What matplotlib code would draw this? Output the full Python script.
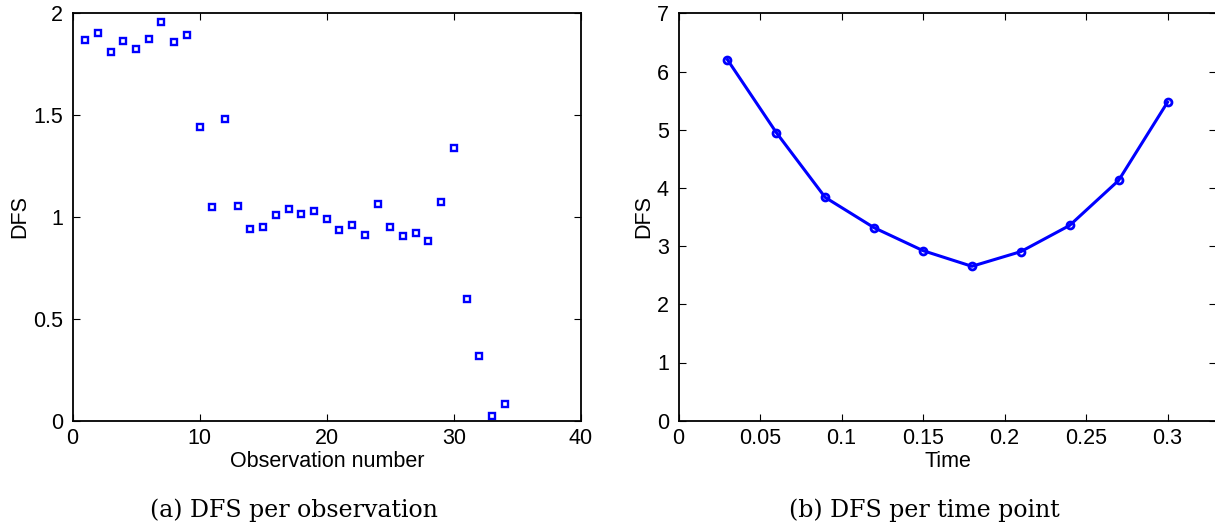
import matplotlib
matplotlib.use("Agg")
import matplotlib.pyplot as plt
import numpy as np

# ---- data ----
obs_number = list(range(1, 35))
dfs_obs = [1.869, 1.902, 1.811, 1.866, 1.826, 1.872, 1.956, 1.859, 1.892, 1.441,
           1.051, 1.479, 1.052, 0.941, 0.952, 1.008, 1.038, 1.016, 1.028, 0.992,
           0.938, 0.959, 0.913, 1.064, 0.949, 0.907, 0.920, 0.880, 1.075, 1.339,
           0.595, 0.320, 0.023, 0.083]

time_points = [0.03, 0.06, 0.09, 0.12, 0.15, 0.18, 0.21, 0.24, 0.27, 0.30]
dfs_time = [6.204, 4.951, 3.837, 3.316, 2.922, 2.653, 2.905, 3.356, 4.128, 5.472]

left_xticks = [0, 10, 20, 30, 40]
left_yticks = [0, 0.5, 1, 1.5, 2]
left_yticklabels = ["0", "0.5", "1", "1.5", "2"]
right_xticks = [0, 0.05, 0.1, 0.15, 0.2, 0.25, 0.3]
right_xticklabels = ["0", "0.05", "0.1", "0.15", "0.2", "0.25", "0.3"]
right_yticks = [0, 1, 2, 3, 4, 5, 6, 7]

caption_a = "(a) DFS per observation"
caption_b = "(b) DFS per time point"

# ---- figure ----
W, H = 1215, 531
fig = plt.figure(figsize=(W / 100, H / 100), dpi=100)
plt.rcParams['font.family'] = ['Liberation Sans', 'DejaVu Sans']
tick_fs = 15.5

def px_axes(x0, x1, ytop, ybot):
    return fig.add_axes([x0 / W, (H - ybot) / H, (x1 - x0) / W, (ybot - ytop) / H])

def style(ax):
    for s in ax.spines.values():
        s.set_linewidth(1.3)
        s.set_color("black")
    ax.tick_params(direction="in", length=5, width=0.8, top=True, right=True,
                   labelsize=tick_fs, colors="black")
    ax.tick_params(axis="x", pad=5.5)
    ax.tick_params(axis="y", pad=7)

# Left panel
ax1 = px_axes(72.5, 581, 13.3, 420.7)
ax1.plot(obs_number, dfs_obs, linestyle="none", marker="s", markersize=3.8,
         markerfacecolor="white", markeredgecolor="#0000ff", markeredgewidth=1.7)
ax1.set_xlim(0, 40)
ax1.set_ylim(0, 2)
ax1.set_xticks(left_xticks)
ax1.set_yticks(left_yticks)
ax1.set_yticklabels(left_yticklabels)
ax1.set_xlabel("Observation number", fontsize=tick_fs, labelpad=1.5)
ax1.set_ylabel("DFS", fontsize=tick_fs, labelpad=2)
style(ax1)

# Right panel
x0r = 678.5
ppu = 1630.0  # pixels per unit time
ax2 = px_axes(x0r, x0r + 0.33 * ppu, 13.3, 420.7)
ax2.plot(time_points, dfs_time, color="#0000ff", linewidth=2.2, marker="o",
         markersize=5.0, markerfacecolor="none", markeredgecolor="#0000ff",
         markeredgewidth=2.0)
ax2.set_xlim(0, 0.33)
ax2.set_ylim(0, 7)
ax2.set_xticks(right_xticks)
ax2.set_xticklabels(right_xticklabels)
ax2.set_yticks(right_yticks)
ax2.set_xlabel("Time", fontsize=tick_fs, labelpad=1.5)
ax2.set_ylabel("DFS", fontsize=tick_fs, labelpad=2)
style(ax2)

# captions
fig.text(294 / W, 1 - 510 / H, caption_a, ha="center", va="center",
         fontsize=17, family=["DejaVu Serif"])
fig.text(924 / W, 1 - 510 / H, caption_b, ha="center", va="center",
         fontsize=17, family=["DejaVu Serif"])

fig.savefig("out.png", dpi=100)
